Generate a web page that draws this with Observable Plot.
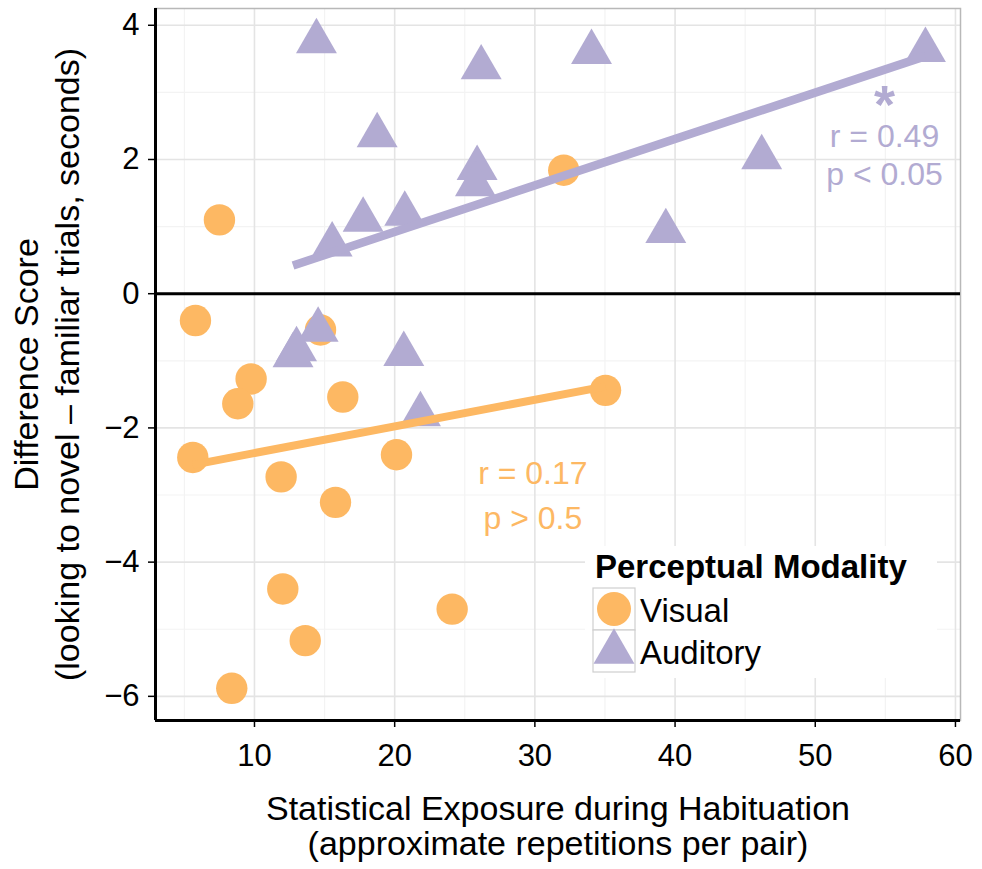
<!DOCTYPE html>
<html>
<head>
<meta charset="utf-8">
<script src="https://cdn.jsdelivr.net/npm/d3@7"></script>
<script src="https://cdn.jsdelivr.net/npm/@observablehq/plot@0.6"></script>
<style>
  html, body { margin: 0; padding: 0; background: white; }
  #chart { width: 982px; height: 869px; }
</style>
</head>
<body>
<div id="chart"></div>
<script>
// ---- Data ----
const categories = ["Visual", "Auditory"];
const colors = ["#fdb863", "#b2abd2"];

// Visual modality: statistical exposure (x) and difference score (y)
const visualX = [5.79, 14.71, 9.76, 8.81, 16.30, 5.60, 20.13, 11.90, 15.78, 12.02, 24.10, 13.62, 8.38, 35.04, 7.50, 32.06];
const visualY = [-0.40, -0.54, -1.27, -1.64, -1.54, -2.44, -2.40, -2.73, -3.11, -4.40, -4.70, -5.17, -5.88, -1.44, 1.10, 1.84];

// Auditory modality
const auditoryX = [14.42, 26.17, 18.75, 25.88, 25.76, 17.75, 20.72, 15.54, 34.04, 57.86, 46.18, 39.34, 14.54, 12.75, 13.00, 20.65, 21.84];
const auditoryY = [3.76, 3.37, 2.36, 1.87, 1.63, 1.10, 1.19, 0.73, 3.60, 3.63, 2.03, 0.93, -0.54, -0.92, -0.83, -0.90, -1.80];

// Fitted regression lines (endpoints)
const visualFitX = [5.60, 35.04];
const visualFitY = [-2.55, -1.38];
const auditoryFitX = [12.75, 57.86];
const auditoryFitY = [0.42, 3.54];

// Annotations
const annotationText = ["*", "r = 0.49", "p < 0.05", "r = 0.17", "p > 0.5"];
const annotationX = [54.94, 54.94, 54.94, 29.86, 29.86];
const annotationY = [2.55, 2.185, 1.614, -2.83, -3.50];
const annotationGroup = ["Auditory", "Auditory", "Auditory", "Visual", "Visual"];

// Axes
const xTicks = [10, 20, 30, 40, 50, 60];
const xMinorTicks = [5, 15, 25, 35, 45, 55];
const yTicks = [-6, -4, -2, 0, 2, 4];
const yMinorTicks = [-5, -3, -1, 1, 3];
const xDomain = [2.94, 60.36];
const yDomain = [-6.36, 4.25];
const xTitle = ["Statistical Exposure during Habituation", "(approximate repetitions per pair)"];
const yTitle = ["Difference Score", "(looking to novel \u2013 familiar trials, seconds)"];
const legendTitle = "Perceptual Modality";

// ---- Build tables ----
const visual = visualX.map((x, i) => ({x, y: visualY[i]}));
const auditory = auditoryX.map((x, i) => ({x, y: auditoryY[i]}));
const visualFit = visualFitX.map((x, i) => ({x, y: visualFitY[i]}));
const auditoryFit = auditoryFitX.map((x, i) => ({x, y: auditoryFitY[i]}));
const annotations = annotationText.map((t, i) => ({text: t, x: annotationX[i], y: annotationY[i], group: annotationGroup[i]}));
const colorOf = g => colors[categories.indexOf(g)];

const FONT = "'Liberation Sans', Arial, Helvetica, sans-serif";

const chart = Plot.plot({
  width: 982,
  height: 869,
  marginLeft: 155,
  marginRight: 22,
  marginTop: 8,
  marginBottom: 149,
  x: {domain: xDomain},
  y: {domain: yDomain},
  style: {fontFamily: FONT, fontSize: "31px", color: "black", background: "white", overflow: "visible"},
  marks: [
    Plot.gridX(xMinorTicks, {stroke: "#f3f3f3", strokeOpacity: 1, strokeWidth: 1.2}),
    Plot.gridY(yMinorTicks, {stroke: "#f3f3f3", strokeOpacity: 1, strokeWidth: 1.2}),
    Plot.gridX(xTicks, {stroke: "#e4e4e4", strokeOpacity: 1, strokeWidth: 1.6}),
    Plot.gridY(yTicks, {stroke: "#e4e4e4", strokeOpacity: 1, strokeWidth: 1.6}),
    Plot.frame({stroke: "#b8b8b8", strokeWidth: 1.5}),
    Plot.ruleY([0], {stroke: "black", strokeWidth: 3}),
    Plot.dot(visual, {x: "x", y: "y", r: 15.7, fill: colorOf("Visual"), stroke: "none"}),
    Plot.dot(auditory, {x: "x", y: "y", r: 15.2, symbol: "triangle", fill: colorOf("Auditory"), stroke: "none"}),
    Plot.line(visualFit, {x: "x", y: "y", stroke: colorOf("Visual"), strokeWidth: 8, strokeLinecap: "butt"}),
    Plot.line(auditoryFit, {x: "x", y: "y", stroke: colorOf("Auditory"), strokeWidth: 8.5, strokeLinecap: "butt"}),
    Plot.text(annotations.filter(d => d.text !== "*"), {
      x: "x", y: "y", text: "text", fill: d => colorOf(d.group),
      fontSize: 32, textAnchor: "middle", lineAnchor: "bottom"
    }),
    Plot.text(annotations.filter(d => d.text === "*"), {
      x: "x", y: "y", text: "text", fill: d => colorOf(d.group),
      fontSize: 54, fontWeight: "bold", textAnchor: "middle", lineAnchor: "bottom"
    }),
    Plot.ruleX([xDomain[0]], {stroke: "black", strokeWidth: 3}),
    Plot.ruleY([yDomain[0]], {stroke: "black", strokeWidth: 3}),
    Plot.axisX({ticks: xTicks, tickSize: 7, tickPadding: 16, fontSize: 31, label: null, strokeWidth: 1.5}),
    Plot.axisY({ticks: yTicks, tickSize: 7, tickPadding: 9, fontSize: 31, label: null, strokeWidth: 1.5}),
    Plot.text([xTitle[0]], {text: d => d, frameAnchor: "bottom", textAnchor: "middle", lineAnchor: "bottom", dy: 99, fontSize: 34}),
    Plot.text([xTitle[1]], {text: d => d, frameAnchor: "bottom", textAnchor: "middle", lineAnchor: "bottom", dy: 134, fontSize: 34}),
    Plot.text([yTitle[0]], {text: d => d, frameAnchor: "left", textAnchor: "middle", lineAnchor: "bottom", rotate: -90, dx: -118, fontSize: 34}),
    Plot.text([yTitle[1]], {text: d => d, frameAnchor: "left", textAnchor: "middle", lineAnchor: "bottom", rotate: -90, dx: -77, fontSize: 34})
  ]
});

// ---- Legend (drawn inside the panel, like the reference) ----
const svg = d3.select(chart);
const lg = svg.append("g").attr("font-family", FONT).attr("text-anchor", "start");
lg.append("rect").attr("x", 585).attr("y", 546).attr("width", 352).attr("height", 132).attr("fill", "white");
lg.append("text").attr("x", 595).attr("y", 578).attr("font-size", 33).attr("font-weight", "bold")
  .attr("fill", "black").attr("text-anchor", "start").text(legendTitle);
categories.forEach((c, i) => {
  const top = 588 + 42 * i;
  lg.append("rect").attr("x", 593).attr("y", top).attr("width", 42).attr("height", 42)
    .attr("fill", "white").attr("stroke", "#cfcfcf").attr("stroke-width", 1.2);
  const sym = i === 0 ? d3.symbolCircle : d3.symbolTriangle;
  const size = i === 0 ? Math.PI * 17 * 17 : Math.PI * 15.2 * 15.2;
  const cy = i === 0 ? top + 21 : top + 22;
  lg.append("path").attr("d", d3.symbol(sym, size)()).attr("transform", `translate(614,${cy})`).attr("fill", colors[i]);
  lg.append("text").attr("x", 640).attr("y", top + 34).attr("font-size", 33).attr("fill", "black")
    .attr("text-anchor", "start").text(c);
});

document.getElementById("chart").appendChild(chart);
</script>
</body>
</html>
